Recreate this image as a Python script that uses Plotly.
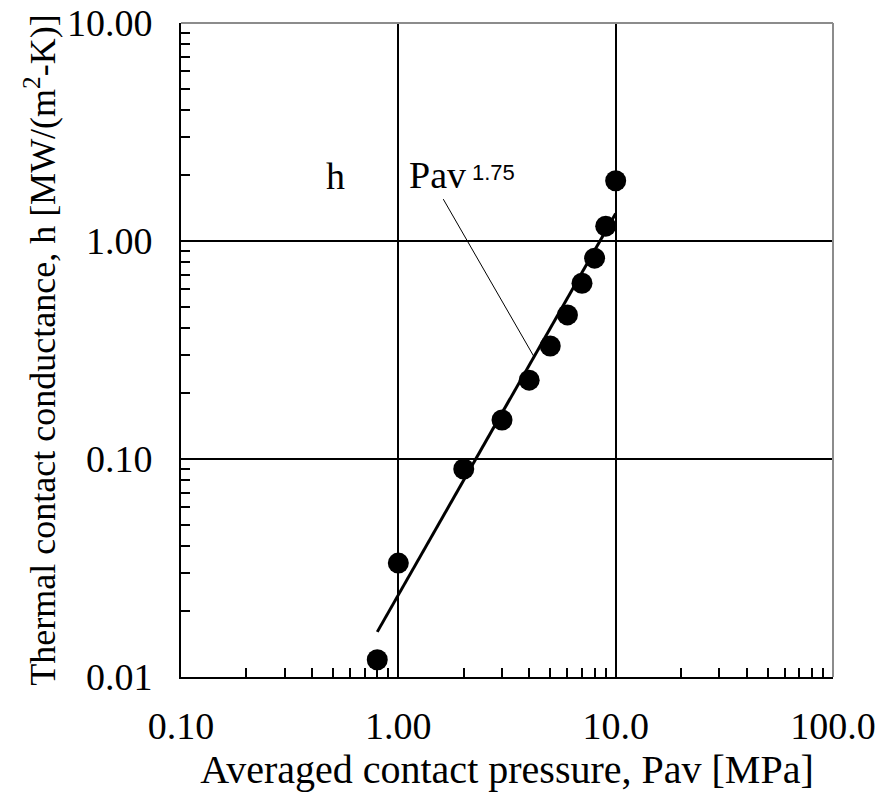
import plotly.graph_objects as go

# Measured contact conductance vs. averaged contact pressure
pressure_mpa = [0.8, 1.0, 2.0, 3.0, 4.0, 5.0, 6.0, 7.0, 8.0, 9.0, 10.0]
conductance = [0.012, 0.0333, 0.090, 0.151, 0.230, 0.330, 0.458, 0.640, 0.834, 1.17, 1.89]

# Power-law fit h = C * Pav^1.75
fit_exponent = 1.75
fit_coeff = 0.0238
fit_pressure = [0.8, 10.0]
fit_conductance = [fit_coeff * p ** fit_exponent for p in fit_pressure]

# Leader line from the fit label down to the fitted curve
leader_x = [1.61, 4.21]
leader_y = [1.556, fit_coeff * 4.21 ** fit_exponent]

x_tickvals = [0.1, 1, 10, 100]
x_ticktext = ["0.10", "1.00", "10.0", "100.0"]
y_tickvals = [0.01, 0.1, 1, 10]
y_ticktext = ["0.01", "0.10", "1.00", "10.00"]

minor_x = [m * d for d in (0.1, 1, 10) for m in range(2, 10)]
minor_y = [m * d for d in (0.01, 0.1, 1) for m in range(2, 10)]

serif = "Liberation Serif"
sans = "Liberation Sans"

fig = go.Figure()

fig.add_trace(go.Scatter(
    x=leader_x, y=leader_y, mode="lines",
    line=dict(color="black", width=1), hoverinfo="skip", showlegend=False,
))
fig.add_trace(go.Scatter(
    x=fit_pressure, y=fit_conductance, mode="lines",
    line=dict(color="black", width=3), showlegend=False,
))
fig.add_trace(go.Scatter(
    x=pressure_mpa, y=conductance, mode="markers",
    marker=dict(color="black", size=21, line=dict(width=0)), showlegend=False,
))

axis_common = dict(
    type="log",
    automargin=False,
    showline=True, linecolor="black", linewidth=2,
    showgrid=True, gridcolor="black", gridwidth=1.5,
    ticks="inside", ticklen=9, tickwidth=1.5, tickcolor="black",
    tickfont=dict(family=serif, size=38, color="black"),
    zeroline=False,
)

fig.update_xaxes(
    **axis_common,
    range=[-1, 2],
    ticklabelstandoff=14,
    tickmode="array", tickvals=x_tickvals, ticktext=x_ticktext,
    minor=dict(tickmode="array", tickvals=minor_x, ticks="inside",
               ticklen=9, tickwidth=1.5, tickcolor="black", showgrid=False),
    title=dict(text="Averaged contact pressure, Pav [MPa]",
               font=dict(family=serif, size=40, color="black"), standoff=4),
)
fig.update_yaxes(
    **axis_common,
    range=[-2, 1],
    ticklabelstandoff=19,
    tickmode="array", tickvals=y_tickvals, ticktext=y_ticktext,
    minor=dict(tickmode="array", tickvals=minor_y, ticks="inside",
               ticklen=9, tickwidth=1.5, tickcolor="black", showgrid=False),
    title=dict(text="Thermal contact conductance, h [MW/(m<sup>2</sup>-K)]",
               font=dict(family=serif, size=36, color="black"), standoff=0),
)

# Gray frame on the top and right edges
fig.add_shape(type="line", xref="paper", yref="paper", x0=0, x1=1, y0=1, y1=1,
              line=dict(color="#8c8c8c", width=2), layer="above")
fig.add_shape(type="line", xref="paper", yref="paper", x0=1, x1=1, y0=0, y1=1,
              line=dict(color="#8c8c8c", width=2), layer="above")

fig.add_annotation(x=0.255, y=0.731, xref="x domain", yref="y domain",
                   xanchor="right", yanchor="bottom", showarrow=False,
                   text="h", font=dict(family=serif, size=38, color="black"))
fig.add_annotation(x=0.347, y=0.732, xref="x domain", yref="y domain",
                   xanchor="left", yanchor="bottom", showarrow=False,
                   text="Pav", font=dict(family=serif, size=38, color="black"))
fig.add_annotation(x=0.443, y=0.749, xref="x domain", yref="y domain",
                   xanchor="left", yanchor="bottom", showarrow=False,
                   text="1.75", font=dict(family=sans, size=22, color="black"))

fig.update_layout(
    width=880, height=795,
    margin=dict(l=181, r=47, t=23, b=118),
    paper_bgcolor="white", plot_bgcolor="white",
    showlegend=False,
)

fig.write_html("out.html")
